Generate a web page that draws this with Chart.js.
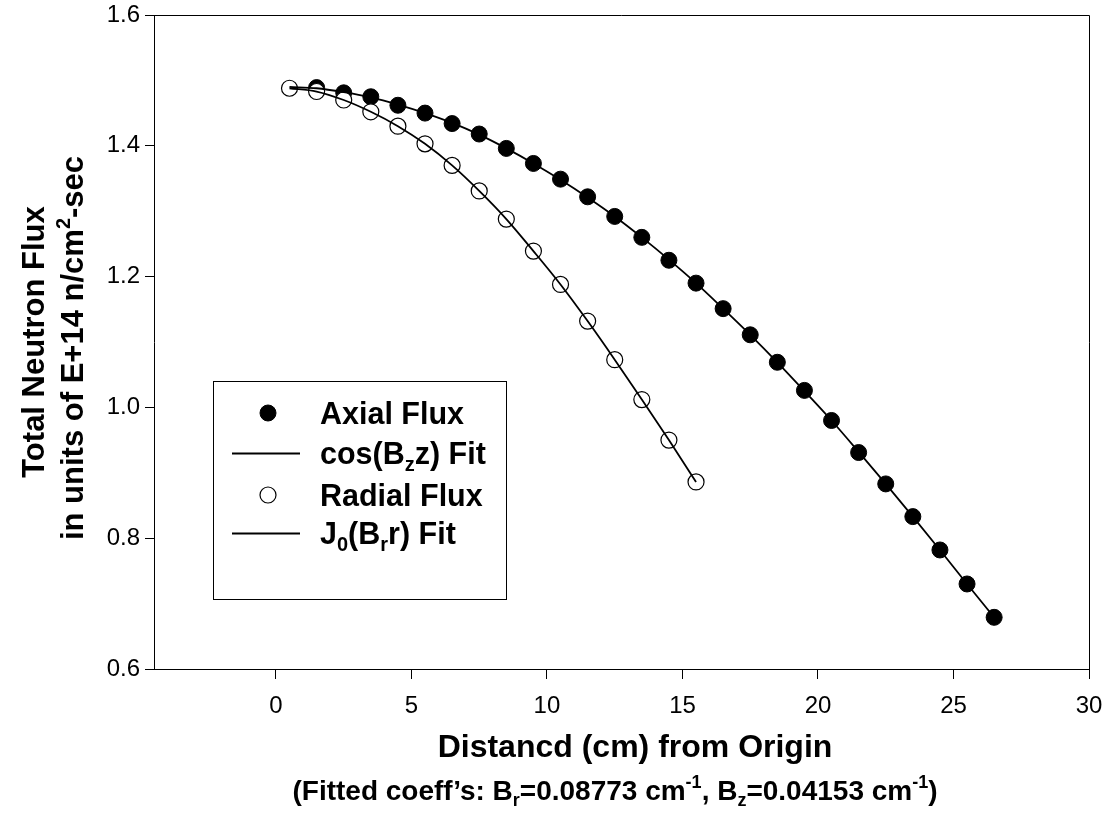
<!DOCTYPE html>
<html><head><meta charset="utf-8">
<script src="https://cdn.jsdelivr.net/npm/chart.js@4/dist/chart.umd.min.js"></script>
<style>html,body{margin:0;padding:0;background:#fff}</style>
</head><body>
<canvas id="c" width="1102" height="819" style="display:block"></canvas>
<script>
// ---- data ----
const axialDist = [1.5,2.5,3.5,4.5,5.5,6.5,7.5,8.5,9.5,10.5,11.5,12.5,13.5,14.5,15.5,16.5,17.5,18.5,19.5,20.5,21.5,22.5,23.5,24.5,25.5,26.5];
const axialFlux = [1.489,1.481,1.475,1.462,1.450,1.434,1.418,1.396,1.373,1.349,1.322,1.292,1.260,1.225,1.190,1.151,1.111,1.069,1.026,0.980,0.931,0.883,0.833,0.782,0.730,0.679];
const cosFitDist = [0.5,1.5,2.5,3.5,4.5,5.5,6.5,7.5,8.5,9.5,10.5,11.5,12.5,13.5,14.5,15.5,16.5,17.5,18.5,19.5,20.5,21.5,22.5,23.5,24.5,25.5,26.5];
const cosFitFlux = [1.490,1.488,1.482,1.474,1.463,1.450,1.435,1.417,1.396,1.373,1.348,1.321,1.292,1.260,1.226,1.190,1.151,1.111,1.069,1.025,0.980,0.932,0.883,0.833,0.782,0.730,0.679];
const radialDist = [0.5,1.5,2.5,3.5,4.5,5.5,6.5,7.5,8.5,9.5,10.5,11.5,12.5,13.5,14.5,15.5];
const radialFlux = [1.488,1.483,1.470,1.452,1.430,1.403,1.370,1.331,1.288,1.239,1.188,1.132,1.073,1.012,0.950,0.886];
const j0FitDist = [0.5,1.5,2.5,3.5,4.5,5.5,6.5,7.5,8.5,9.5,10.5,11.5,12.5,13.5,14.5,15.5];
const j0FitFlux = [1.488,1.483,1.470,1.452,1.430,1.403,1.370,1.331,1.288,1.239,1.188,1.132,1.073,1.012,0.950,0.886];
const xTickValues = [0,5,10,15,20,25,30];
const yTickValues = [0.6,0.8,1.0,1.2,1.4,1.6];
const xTitleLines = ['Distancd (cm) from Origin', '(Fitted coeff\u2019s: B_{r}=0.08773 cm^{-1}, B_{z}=0.04153 cm^{-1})'];
const yTitleLines = ['Total Neutron Flux', 'in units of E+14 n/cm^{2}-sec'];

const pts = (xs, ys) => xs.map((x, i) => ({x: x, y: ys[i]}));
const FAM = '"Liberation Sans", Arial, Helvetica, sans-serif';

function parseRich(s) {
  const out = []; const re = /([_^])\{([^}]*)\}/g; let last = 0, m;
  while ((m = re.exec(s))) {
    if (m.index > last) out.push({t: s.slice(last, m.index), k: ''});
    out.push({t: m[2], k: m[1]}); last = re.lastIndex;
  }
  if (last < s.length) out.push({t: s.slice(last), k: ''});
  return out;
}
function segFont(seg, F) { return 'bold ' + (seg.k ? Math.round(F * 0.66) : F) + 'px ' + FAM; }
function richWidth(ctx, s, F) {
  let w = 0; for (const seg of parseRich(s)) { ctx.font = segFont(seg, F); w += ctx.measureText(seg.t).width; } return w;
}
// y = cap-centre line of the main text
function drawRich(ctx, s, x, y, F, align) {
  let cx = align === 'center' ? x - richWidth(ctx, s, F) / 2 : x;
  const base = y + F * 0.358;
  ctx.textBaseline = 'alphabetic'; ctx.textAlign = 'left'; ctx.fillStyle = '#000';
  for (const seg of parseRich(s)) {
    ctx.font = segFont(seg, F);
    const dy = seg.k === '_' ? F * 0.22 : seg.k === '^' ? -F * 0.42 : 0;
    ctx.fillText(seg.t, cx, base + dy);
    cx += ctx.measureText(seg.t).width;
  }
}

const decorPlugin = {
  id: 'decor',
  afterDatasetsDraw(chart) {
    const ctx = chart.ctx, a = chart.chartArea;
    ctx.save();
    ctx.strokeStyle = '#000'; ctx.lineWidth = 1;
    ctx.beginPath();
    ctx.moveTo(a.left, Math.round(a.top) + 0.5); ctx.lineTo(Math.round(a.right) + 0.5, Math.round(a.top) + 0.5);
    ctx.lineTo(Math.round(a.right) + 0.5, a.bottom);
    ctx.stroke();
    ctx.restore();
  },
  afterDraw(chart) {
    const ctx = chart.ctx;
    ctx.save();
    // axis titles
    drawRich(ctx, xTitleLines[0], 635, 746, 32, 'center');
    drawRich(ctx, xTitleLines[1], 615, 790, 28, 'center');
    [[33, 342], [72, 348]].forEach((p, i) => {
      ctx.save(); ctx.translate(p[0], p[1]); ctx.rotate(-Math.PI / 2);
      drawRich(ctx, yTitleLines[i], 0, 0, 31, 'center');
      ctx.restore();
    });
    // legend
    const L = {x: 213.5, y: 381.5, w: 293, h: 218};
    ctx.fillStyle = '#fff'; ctx.fillRect(L.x, L.y, L.w, L.h);
    ctx.strokeStyle = '#000'; ctx.lineWidth = 1; ctx.strokeRect(L.x, L.y, L.w, L.h);
    const rows = [413, 453, 495, 533];
    chart.data.datasets.forEach((ds, i) => {
      const yc = rows[i];
      if (ds.showLine) {
        ctx.strokeStyle = ds.borderColor; ctx.lineWidth = ds.borderWidth;
        ctx.beginPath(); ctx.moveTo(232, yc + 0.5); ctx.lineTo(300, yc + 0.5); ctx.stroke();
      } else {
        ctx.beginPath(); ctx.arc(268, yc, ds.pointRadius, 0, Math.PI * 2);
        ctx.fillStyle = ds.pointBackgroundColor; ctx.fill();
        ctx.strokeStyle = ds.pointBorderColor; ctx.lineWidth = ds.pointBorderWidth; ctx.stroke();
      }
      drawRich(ctx, ds.label, 320, yc, 30.5, 'left');
    });
    ctx.restore();
  }
};

const tickFont = {family: FAM, size: 24};
new Chart(document.getElementById('c'), {
  type: 'scatter',
  data: {
    datasets: [
      {label: 'Axial Flux', data: pts(axialDist, axialFlux), showLine: false, pointRadius: 8, pointBackgroundColor: '#000', pointBorderColor: '#000', pointBorderWidth: 1, order: 3},
      {label: 'cos(B_{z}z) Fit', data: pts(cosFitDist, cosFitFlux), showLine: true, pointRadius: 0, borderColor: '#000', borderWidth: 1.8, cubicInterpolationMode: 'monotone', order: 1},
      {label: 'Radial Flux', data: pts(radialDist, radialFlux), showLine: false, pointRadius: 8, pointBackgroundColor: '#fff', pointBorderColor: '#000', pointBorderWidth: 1.2, order: 2},
      {label: 'J_{0}(B_{r}r) Fit', data: pts(j0FitDist, j0FitFlux), showLine: true, pointRadius: 0, borderColor: '#000', borderWidth: 1.8, cubicInterpolationMode: 'monotone', order: 0}
    ]
  },
  options: {
    responsive: false, animation: false, events: [],
    layout: {padding: {top: 15, right: 13, left: 0, bottom: 0}},
    plugins: {legend: {display: false}, tooltip: {enabled: false}},
    scales: {
      x: {
        type: 'linear', min: -4.5, max: 30,
        afterBuildTicks: s => { s.ticks = xTickValues.map(v => ({value: v})); },
        afterFit: s => { s.height = 150; s.paddingLeft = 0; s.paddingRight = 0; },
        grid: {drawOnChartArea: false, drawTicks: true, tickLength: 10, tickColor: '#000', tickWidth: 1},
        border: {display: true, color: '#000', width: 1},
        ticks: {color: '#000', font: tickFont, padding: 13, maxRotation: 0, callback: v => String(v)}
      },
      y: {
        min: 0.6, max: 1.6,
        afterBuildTicks: s => { s.ticks = yTickValues.map(v => ({value: v})); },
        afterFit: s => { s.width = 154; s.paddingTop = 0; s.paddingBottom = 0; },
        grid: {drawOnChartArea: false, drawTicks: true, tickLength: 9, tickColor: '#000', tickWidth: 1},
        border: {display: true, color: '#000', width: 1},
        ticks: {color: '#000', font: tickFont, padding: 5, callback: v => v.toFixed(1)}
      }
    }
  },
  plugins: [decorPlugin]
});
</script>
</body></html>
